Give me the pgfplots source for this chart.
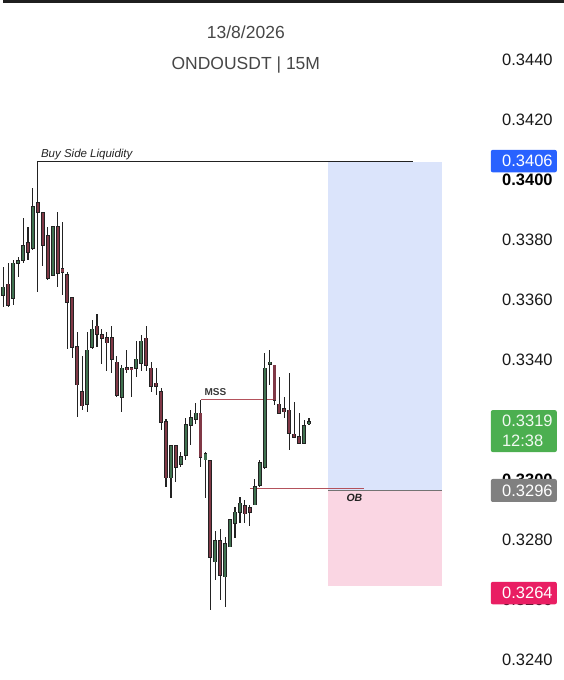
\documentclass[border=0pt]{standalone}
\usepackage{fontspec}
\setmainfont{Liberation Sans}
\usepackage{pgfplots}
\usepackage{pgfplotstable}
\pgfplotsset{compat=1.18}
\definecolor{cgreen}{RGB}{64,114,80}
\definecolor{cred}{RGB}{128,56,70}
\definecolor{wick}{RGB}{34,34,34}
\definecolor{boxblue}{RGB}{219,228,251}
\definecolor{boxpink}{RGB}{250,214,227}
\definecolor{lblblue}{RGB}{41,98,255}
\definecolor{lblgreen}{RGB}{76,175,80}
\definecolor{lblgray}{RGB}{128,128,128}
\definecolor{lblpink}{RGB}{233,30,99}
\definecolor{annred}{RGB}{180,82,92}
\definecolor{titlegray}{RGB}{70,70,70}
\definecolor{lbltext}{RGB}{25,25,25}

% bullish candles: index open high low close
\pgfplotstableread{
i o h l c
1 0.33617 0.33710 0.33577 0.33643
3 0.33607 0.33733 0.33583 0.33723
4 0.33723 0.33743 0.33677 0.33730
5 0.33733 0.33873 0.33723 0.33780
7 0.33773 0.33973 0.33767 0.33910
11 0.33683 0.33843 0.33683 0.33843
18 0.33253 0.33493 0.33227 0.33433
19 0.33443 0.33533 0.33437 0.33503
25 0.33277 0.33383 0.33227 0.33373
28 0.33373 0.33463 0.33343 0.33403
29 0.33390 0.33483 0.33363 0.33463
35 0.33007 0.33113 0.32940 0.33113
37 0.33053 0.33093 0.33043 0.33077
38 0.33083 0.33207 0.33067 0.33183
39 0.33183 0.33233 0.33117 0.33207
40 0.33203 0.33257 0.33187 0.33223
42 0.33067 0.33093 0.32940 0.33087
44 0.32727 0.32830 0.32667 0.32797
46 0.32677 0.32810 0.32577 0.32787
47 0.32777 0.32867 0.32777 0.32867
48 0.32857 0.32910 0.32807 0.32893
49 0.32893 0.32943 0.32857 0.32923
52 0.32917 0.33003 0.32917 0.32977
53 0.32983 0.33067 0.32977 0.33057
54 0.33043 0.33423 0.33037 0.33373
55 0.33387 0.33433 0.33317 0.33393
62 0.33123 0.33200 0.33123 0.33180
63 0.33187 0.33207 0.33183 0.33193
}\upcandles

% bearish candles
\pgfplotstableread{
i o h l c
2 0.33653 0.33723 0.33577 0.33583
6 0.33790 0.33843 0.33733 0.33760
8 0.33923 0.33923 0.33627 0.33893
9 0.33890 0.33890 0.33713 0.33783
10 0.33813 0.33843 0.33667 0.33673
12 0.33843 0.33893 0.33643 0.33690
13 0.33703 0.33860 0.33617 0.33693
14 0.33683 0.33693 0.33437 0.33593
15 0.33607 0.33610 0.33407 0.33443
16 0.33443 0.33493 0.33210 0.33317
17 0.33293 0.33413 0.33233 0.33247
20 0.33513 0.33553 0.33443 0.33487
21 0.33483 0.33503 0.33387 0.33473
22 0.33473 0.33493 0.33363 0.33457
23 0.33473 0.33513 0.33357 0.33403
24 0.33393 0.33413 0.33277 0.33283
26 0.33373 0.33433 0.33357 0.33370
27 0.33373 0.33377 0.33277 0.33370
30 0.33473 0.33513 0.33363 0.33383
31 0.33373 0.33393 0.33293 0.33313
32 0.33323 0.33373 0.33283 0.33313
33 0.33293 0.33307 0.33167 0.33193
34 0.33193 0.33203 0.32977 0.33007
36 0.33113 0.33113 0.32993 0.33043
41 0.33223 0.33267 0.33043 0.33077
43 0.33063 0.33063 0.32567 0.32743
45 0.32797 0.32837 0.32600 0.32683
50 0.32913 0.32933 0.32857 0.32887
51 0.32907 0.32917 0.32847 0.32893
56 0.33383 0.33383 0.33250 0.33267
57 0.33253 0.33343 0.33223 0.33223
58 0.33237 0.33277 0.33207 0.33227
59 0.33233 0.33357 0.33100 0.33157
60 0.33153 0.33260 0.33143 0.33143
61 0.33143 0.33223 0.33120 0.33123
}\downcandles

\pgfplotsset{
  wickplot/.style={draw=none, mark=none, forget plot,
    error bars/.cd, y dir=both, y explicit, error mark=none,
    error bar style={line width=1.1pt, draw=wick, solid}},
  outlineplot/.style={draw=none, mark=none, forget plot,
    error bars/.cd, y dir=both, y explicit, error mark=none,
    error bar style={line width=3.9pt, draw=wick, solid}},
  bodyplot/.style={draw=none, mark=none, forget plot,
    error bars/.cd, y dir=both, y explicit, error mark=none,
    error bar style={line width=2.1pt, draw=#1, solid}},
}

\begin{document}
\begin{tikzpicture}
\begin{axis}[
  scale only axis, width=561pt, height=680pt,
  xmin=0, xmax=561, ymin=0.3233333, ymax=0.346,
  hide axis, clip=false,
]
% full frame for the bounding box
\path[draw=none] (rel axis cs:0,0) rectangle (rel axis cs:1,1);
% top strip
\fill[black!88] (rel axis cs:0,1) rectangle (rel axis cs:1,0.99559);

% target / stop zones
\addplot[fill=boxblue, draw=none, forget plot] coordinates {(325,0.34060) (439,0.34060) (439,0.32966) (325,0.32966)} -- cycle;
\addplot[fill=boxpink, draw=none, forget plot] coordinates {(325,0.32966) (439,0.32966) (439,0.32647) (325,0.32647)} -- cycle;
\addplot[draw=black!55, line width=0.8pt, forget plot] coordinates {(325,0.32966) (439,0.32966)};

% annotation lines
\addplot[draw=wick, line width=0.9pt, forget plot] coordinates {(35.0,0.33923) (35.0,0.34062) (410,0.34062)};
\addplot[draw=annred, line width=0.9pt, forget plot] coordinates {(197.7,0.33267) (272,0.33267)};
\addplot[draw=annred, line width=0.9pt, forget plot] coordinates {(247,0.32973) (361,0.32973)};

% candles (bullish)
\addplot[wickplot] table[x expr=0.5+4.93*(\thisrow{i}-1), y expr={(\thisrow{h}+\thisrow{l})/2}, y error expr={(\thisrow{h}-\thisrow{l})/2}] {\upcandles};
\addplot[outlineplot] table[x expr=0.5+4.93*(\thisrow{i}-1), y expr={(\thisrow{o}+\thisrow{c})/2}, y error expr={max(abs(\thisrow{c}-\thisrow{o})/2,0.00002)+0.00002}] {\upcandles};
\addplot[bodyplot=cgreen] table[x expr=0.5+4.93*(\thisrow{i}-1), y expr={(\thisrow{o}+\thisrow{c})/2}, y error expr={max(abs(\thisrow{c}-\thisrow{o})/2,0.00002)}] {\upcandles};
% candles (bearish)
\addplot[wickplot] table[x expr=0.5+4.93*(\thisrow{i}-1), y expr={(\thisrow{h}+\thisrow{l})/2}, y error expr={(\thisrow{h}-\thisrow{l})/2}] {\downcandles};
\addplot[outlineplot] table[x expr=0.5+4.93*(\thisrow{i}-1), y expr={(\thisrow{o}+\thisrow{c})/2}, y error expr={max(abs(\thisrow{c}-\thisrow{o})/2,0.00002)+0.00002}] {\downcandles};
\addplot[bodyplot=cred] table[x expr=0.5+4.93*(\thisrow{i}-1), y expr={(\thisrow{o}+\thisrow{c})/2}, y error expr={max(abs(\thisrow{c}-\thisrow{o})/2,0.00002)}] {\downcandles};

% texts
\node[anchor=base west, font=\fontsize{11.5}{13}\selectfont\itshape, text=wick, inner sep=0pt] at (axis cs:38,0.34075) {Buy Side Liquidity};
\node[anchor=base west, font=\fontsize{10}{12}\selectfont\bfseries, text=wick!90, inner sep=0pt] at (axis cs:201.5,0.3328) {MSS};
\node[anchor=base west, font=\fontsize{10.5}{12}\selectfont\bfseries\itshape, text=wick, inner sep=0pt] at (axis cs:343.5,0.32927) {OB};

\node[anchor=base, font=\fontsize{17.5}{20}\selectfont, text=titlegray, inner sep=0pt] at (axis cs:243,0.34473) {13/8/2026};
\node[anchor=base, font=\fontsize{17.5}{20}\selectfont, text=titlegray, inner sep=0pt] at (axis cs:243,0.34367) {ONDOUSDT | 15M};

% price scale
\node[anchor=east, font=\fontsize{16.5}{19}\selectfont, text=lbltext, inner sep=0pt] at (axis cs:550,0.3440) {0.3440};
\node[anchor=east, font=\fontsize{16.5}{19}\selectfont, text=lbltext, inner sep=0pt] at (axis cs:550,0.3420) {0.3420};
\node[anchor=east, font=\fontsize{16.5}{19}\selectfont\bfseries, text=black, inner sep=0pt] at (axis cs:550,0.3400) {0.3400};
\node[anchor=east, font=\fontsize{16.5}{19}\selectfont, text=lbltext, inner sep=0pt] at (axis cs:550,0.3380) {0.3380};
\node[anchor=east, font=\fontsize{16.5}{19}\selectfont, text=lbltext, inner sep=0pt] at (axis cs:550,0.3360) {0.3360};
\node[anchor=east, font=\fontsize{16.5}{19}\selectfont, text=lbltext, inner sep=0pt] at (axis cs:550,0.3340) {0.3340};
\node[anchor=east, font=\fontsize{16.5}{19}\selectfont, text=lbltext, inner sep=0pt] at (axis cs:550,0.3320) {0.3320};
\node[anchor=east, font=\fontsize{16.5}{19}\selectfont\bfseries, text=black, inner sep=0pt] at (axis cs:550,0.3300) {0.3300};
\node[anchor=east, font=\fontsize{16.5}{19}\selectfont, text=lbltext, inner sep=0pt] at (axis cs:550,0.3280) {0.3280};
\node[anchor=east, font=\fontsize{16.5}{19}\selectfont, text=lbltext, inner sep=0pt] at (axis cs:550,0.3260) {0.3260};
\node[anchor=east, font=\fontsize{16.5}{19}\selectfont, text=lbltext, inner sep=0pt] at (axis cs:550,0.3240) {0.3240};

% coloured price labels
\node[fill=lblblue, rounded corners=2pt, minimum width=66pt, minimum height=22.5pt, inner sep=0pt] at (axis cs:521,0.34063) {};
\node[anchor=east, font=\fontsize{16.5}{19}\selectfont, text=white, inner sep=0pt] at (axis cs:550,0.34063) {0.3406};

\node[fill=lblgreen, rounded corners=2pt, minimum width=66pt, minimum height=42pt, inner sep=0pt] at (axis cs:521,0.33163) {};
\node[anchor=east, font=\fontsize{16.5}{19}\selectfont, text=white!92!lblgreen, inner sep=0pt] at (axis cs:550,0.33197) {0.3319};
\node[anchor=west, font=\fontsize{16.5}{19}\selectfont, text=white!92!lblgreen, inner sep=0pt] at (axis cs:499,0.33130) {12:38};

\node[fill=lblgray, rounded corners=2pt, minimum width=66pt, minimum height=23pt, inner sep=0pt] at (axis cs:521,0.32965) {};
\node[anchor=east, font=\fontsize{16.5}{19}\selectfont, text=white, inner sep=0pt] at (axis cs:550,0.32965) {0.3296};

\node[fill=lblpink, rounded corners=2pt, minimum width=66pt, minimum height=22.5pt, inner sep=0pt] at (axis cs:521,0.32623) {};
\node[anchor=east, font=\fontsize{16.5}{19}\selectfont, text=white, inner sep=0pt] at (axis cs:550,0.32623) {0.3264};
\end{axis}
\end{tikzpicture}
\end{document}
